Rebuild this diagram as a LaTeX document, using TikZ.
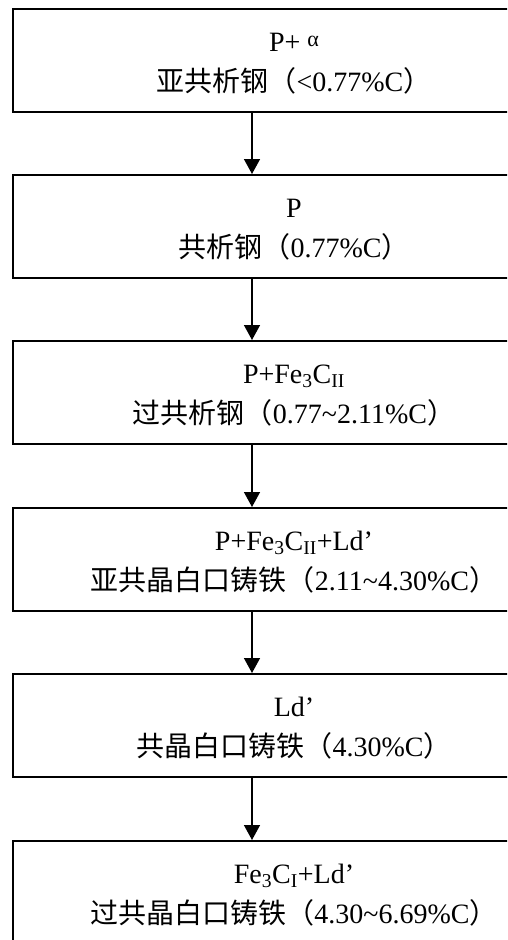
\documentclass[tikz,border=0pt]{standalone}
\usepackage{fontspec}
\setmainfont{Liberation Serif}
\newfontfamily\cjk{Noto Sans CJK SC}
\usetikzlibrary{arrows.meta,calc}
\begin{document}
\begin{tikzpicture}[x=1pt,y=-1pt,
  box/.style={draw,line width=2pt,minimum width=550pt,minimum height=103pt,inner sep=0pt,anchor=north west},
  txt/.style={anchor=base,inner sep=0pt,font=\fontsize{28}{32}\selectfont},
  arr/.style={line width=1.5pt,-{Triangle[width=16pt,length=15pt]}}]
\useasboundingbox (0,0) rectangle (507,940);
\clip (0,0) rectangle (507,940);
\node[box] (b1) at (12,8) {};
\node[box] (b2) at (12,174) {};
\node[box] (b3) at (12,340) {};
\node[box] (b4) at (12,507) {};
\node[box] (b5) at (12,673) {};
\node[box] (b6) at (12,840) {};
\node[txt] (t1a) at ($(b1.north west)+(282,43)$) {P+ \raisebox{5pt}{\fontsize{22}{24}\selectfont α}};
\node[txt] (t1b) at ($(b1.north west)+(282,83)$) {{\cjk 亚共析钢（}<0.77\%C{\cjk ）}};
\node[txt] (t2a) at ($(b2.north west)+(282,43)$) {P};
\node[txt] (t2b) at ($(b2.north west)+(282,83)$) {{\cjk 共析钢（}0.77\%C{\cjk ）}};
\node[txt] (t3a) at ($(b3.north west)+(282,43)$) {P+Fe\textsubscript{3}C\textsubscript{II}};
\node[txt] (t3b) at ($(b3.north west)+(282,83)$) {{\cjk 过共析钢（}0.77\char`~2.11\%C{\cjk ）}};
\node[txt] (t4a) at ($(b4.north west)+(282,43)$) {P+Fe\textsubscript{3}C\textsubscript{II}+Ld’};
\node[txt] (t4b) at ($(b4.north west)+(282,83)$) {{\cjk 亚共晶白口铸铁（}2.11\char`~4.30\%C{\cjk ）}};
\node[txt] (t5a) at ($(b5.north west)+(282,43)$) {Ld’};
\node[txt] (t5b) at ($(b5.north west)+(282,83)$) {{\cjk 共晶白口铸铁（}4.30\%C{\cjk ）}};
\node[txt] (t6a) at ($(b6.north west)+(282,43)$) {Fe\textsubscript{3}C\textsubscript{I}+Ld’};
\node[txt] (t6b) at ($(b6.north west)+(282,83)$) {{\cjk 过共晶白口铸铁（}4.30\char`~6.69\%C{\cjk ）}};
\draw[arr] ([xshift=240pt]b1.south west) -- ([xshift=240pt]b2.north west);
\draw[arr] ([xshift=240pt]b2.south west) -- ([xshift=240pt]b3.north west);
\draw[arr] ([xshift=240pt]b3.south west) -- ([xshift=240pt]b4.north west);
\draw[arr] ([xshift=240pt]b4.south west) -- ([xshift=240pt]b5.north west);
\draw[arr] ([xshift=240pt]b5.south west) -- ([xshift=240pt]b6.north west);
\end{tikzpicture}
\end{document}
